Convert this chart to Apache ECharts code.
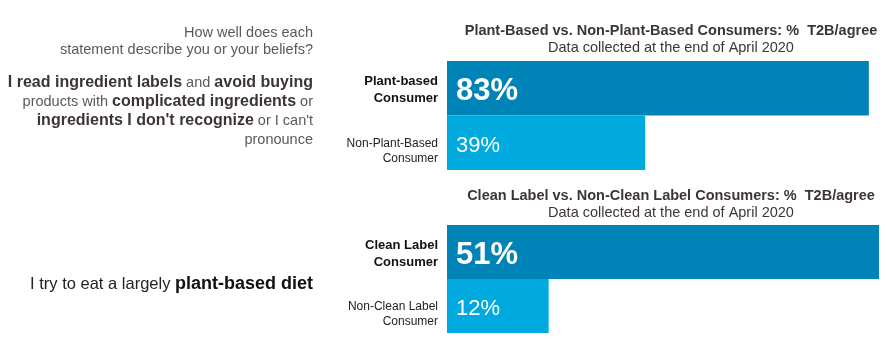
<!DOCTYPE html>
<html>
<head>
<meta charset="utf-8">
<script src="https://cdn.jsdelivr.net/npm/echarts@6/dist/echarts.min.js"></script>
<style>html,body{margin:0;padding:0;background:#fff}#c{width:886px;height:340px}</style>
</head>
<body>
<div id="c"></div>
<script>
var topCategories = ['Plant-based\nConsumer', 'Non-Plant-Based\nConsumer'];
var topValues = [83, 39];
var bottomCategories = ['Clean Label\nConsumer', 'Non-Clean Label\nConsumer'];
var bottomValues = [51, 12];
var topTitle = 'Plant-Based vs. Non-Plant-Based Consumers: %  T2B/agree';
var bottomTitle = 'Clean Label vs. Non-Clean Label Consumers: %  T2B/agree';
var subTitle = 'Data collected at the end of April 2020';

var DARK = '#0083b6', LIGHT = '#00a9de';
var FONT = '"Liberation Sans", Arial, sans-serif';

function catFormatter(v, i) {
  var parts = v.split('\n');
  if (i === 0) return '{t|}\n{a|' + parts[0] + '}\n{a|' + parts[1] + '}';
  return '{s|}\n{b|' + parts[0] + '}\n{b|' + parts[1] + '}';
}
var catRich = {
  a: {fontFamily: FONT, fontSize: 13, fontWeight: 'bold', color: '#111', lineHeight: 17, align: 'right'},
  b: {fontFamily: FONT, fontSize: 12, color: '#222', lineHeight: 15, align: 'right'},
  s: {fontSize: 1, lineHeight: 16},
  t: {fontSize: 1, lineHeight: 4}
};
function barData(vals) {
  return vals.map(function (v, i) {
    return {
      value: v,
      itemStyle: {color: i === 0 ? DARK : LIGHT},
      label: i === 0
        ? {fontSize: 31, fontWeight: 'bold'}
        : {fontSize: 22, fontWeight: 'normal'}
    };
  });
}
var titleStyle = {fontFamily: FONT, fontSize: 14.5, fontWeight: 'bold', color: '#3d3634', lineHeight: 16};
var subStyle = {fontFamily: FONT, fontSize: 14.5, color: '#3d3634', lineHeight: 16};

var chart = echarts.init(document.getElementById('c'));
chart.setOption({
  animation: false,
  backgroundColor: '#fff',
  textStyle: {fontFamily: FONT},
  title: [
    {text: topTitle, subtext: subTitle, left: 671, top: 23, textAlign: 'center', itemGap: 1, padding: 0,
      textStyle: titleStyle, subtextStyle: subStyle},
    {text: bottomTitle, subtext: subTitle, left: 671, top: 188, textAlign: 'center', itemGap: 1, padding: 0,
      textStyle: titleStyle, subtextStyle: subStyle}
  ],
  grid: [
    {left: 447, top: 61, width: 432, height: 109},
    {left: 447, top: 225, width: 432, height: 108}
  ],
  xAxis: [
    {type: 'value', gridIndex: 0, min: 0, max: 85, show: false},
    {type: 'value', gridIndex: 1, min: 0, max: 51, show: false}
  ],
  yAxis: [
    {type: 'category', gridIndex: 0, data: topCategories, inverse: true,
      axisLine: {show: false}, axisTick: {show: false}, splitLine: {show: false},
      axisLabel: {margin: 9, formatter: catFormatter, rich: catRich}},
    {type: 'category', gridIndex: 1, data: bottomCategories, inverse: true,
      axisLine: {show: false}, axisTick: {show: false}, splitLine: {show: false},
      axisLabel: {margin: 9, formatter: catFormatter, rich: catRich}}
  ],
  series: [
    {type: 'bar', xAxisIndex: 0, yAxisIndex: 0, barWidth: '100%', data: barData(topValues),
      label: {show: true, position: 'insideLeft', distance: 9, offset: [0, 3], color: '#fff', fontFamily: FONT, formatter: '{c}%'}},
    {type: 'bar', xAxisIndex: 1, yAxisIndex: 1, barWidth: '100%', data: barData(bottomValues),
      label: {show: true, position: 'insideLeft', distance: 9, offset: [0, 3], color: '#fff', fontFamily: FONT, formatter: '{c}%'}}
  ],
  graphic: [
    {type: 'text', x: 313, y: 41.5, style: {
      text: 'How well does each\nstatement describe you or your beliefs?',
      fontFamily: FONT, fontSize: 14.5, lineHeight: 17, fill: '#595959', align: 'right', verticalAlign: 'middle'}},
    {type: 'text', x: 313, y: 111.5, style: {
      text: '{b|I read ingredient labels}{n| and }{b|avoid buying}\n' +
            '{n|products with }{b|complicated ingredients}{n| or}\n' +
            "{b|ingredients I don't recognize}{n| or I can't}\n" +
            '{n|pronounce}',
      align: 'right', verticalAlign: 'middle',
      rich: {
        b: {fontFamily: FONT, fontSize: 16, fontWeight: 'bold', fill: '#3d3535', lineHeight: 19},
        n: {fontFamily: FONT, fontSize: 14.5, fill: '#595959', lineHeight: 19}
      }}},
    {type: 'text', x: 313, y: 284, style: {
      text: '{n|I try to eat a largely }{b|plant-based diet}',
      align: 'right', verticalAlign: 'middle',
      rich: {
        b: {fontFamily: FONT, fontSize: 18, fontWeight: 'bold', fill: '#111', lineHeight: 22},
        n: {fontFamily: FONT, fontSize: 16.5, fill: '#222', lineHeight: 22}
      }}}
  ]
});
</script>
</body>
</html>
